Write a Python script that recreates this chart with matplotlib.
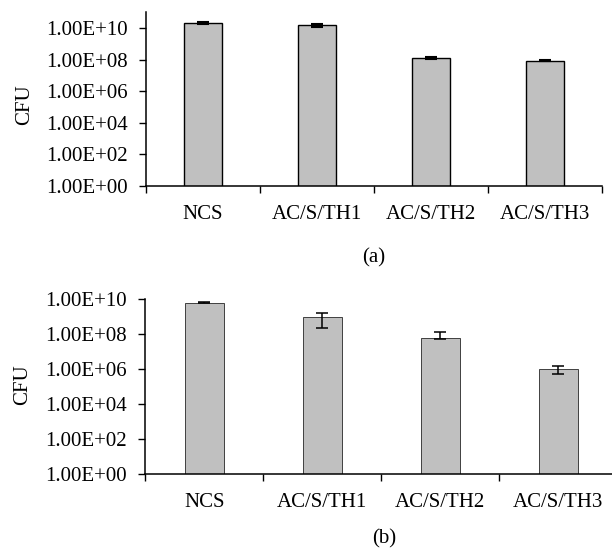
import numpy as np
import matplotlib
matplotlib.use("Agg")
import matplotlib.pyplot as plt
from matplotlib.ticker import FixedLocator, FuncFormatter, NullLocator

plt.rcParams['font.family'] = ['Liberation Serif', 'DejaVu Serif']
plt.rcParams['font.size'] = 15

groups = ['NCS', 'AC/S/TH1', 'AC/S/TH2', 'AC/S/TH3']

# panel (a)
cfu_a = [2.1e10, 1.5e10, 1.3e8, 8.7e7]
err_a_lo = [0.25e10, 0.3e10, 0.16e8, 0.7e7]
err_a_hi = [0.25e10, 0.3e10, 0.16e8, 0.7e7]

# panel (b)
cfu_b = [6.3e9, 9.7e8, 6.0e7, 1.05e6]
err_b_lo = [0.3e9, 7.4e8, 0.8e7, 5.5e5]
err_b_hi = [0.3e9, 7.4e8, 6.6e7, 5.5e5]

yticks = [1e0, 1e2, 1e4, 1e6, 1e8, 1e10]

fig = plt.figure(figsize=(6.12, 5.57), dpi=100)
ax_a = fig.add_axes([0.2386, 0.6666, 0.745, 0.3113])
ax_b = fig.add_axes([0.2373, 0.149, 0.771, 0.3137])


def draw(ax, vals, lo, hi, ytop, edge_lw, edge_col, err_lw, label_x, label_y):
    x = np.arange(len(groups)) + 0.5
    ax.bar(x, vals, width=0.33, color='#c0c0c0', edgecolor=edge_col,
           linewidth=edge_lw, zorder=2)
    ax.errorbar(x, vals, yerr=[lo, hi], fmt='none', ecolor='black',
                elinewidth=err_lw, capsize=4.5, capthick=err_lw, zorder=3)
    ax.set_yscale('log')
    ax.set_ylim(1, ytop)
    ax.set_xlim(0, len(groups))
    ax.yaxis.set_major_locator(FixedLocator(yticks))
    ax.yaxis.set_minor_locator(NullLocator())
    ax.yaxis.set_major_formatter(FuncFormatter(lambda v, p: '%.2E' % v))
    # category boundaries get the tick marks, labels sit at the centres
    ax.set_xticks(np.arange(len(groups) + 1))
    ax.set_xticklabels([])
    ax.set_xticks(x, minor=True)
    ax.set_xticklabels(groups, minor=True)
    ax.tick_params(axis='x', which='minor', length=0, pad=14)
    ax.tick_params(axis='x', which='major', direction='out', length=5, width=1.0)
    ax.tick_params(axis='y', direction='out', length=5, width=1.0, pad=8)
    for side in ['top', 'right']:
        ax.spines[side].set_visible(False)
    for side in ['left', 'bottom']:
        ax.spines[side].set_linewidth(1.1)
    ax.set_ylabel('CFU')
    ax.yaxis.set_label_coords(label_x, label_y)


draw(ax_a, cfu_a, err_a_lo, err_a_hi, 1e11, 1.0, 'black', 1.5, -0.245, 0.47)
draw(ax_b, cfu_b, err_b_lo, err_b_hi, 1e10, 0.7, '#404040', 1.1, -0.24, 0.51)

fig.text(0.611, 0.5368, '(a)', ha='center', va='center')
fig.text(0.628, 0.033, '(b)', ha='center', va='center')

fig.savefig('out.png', dpi=100)
